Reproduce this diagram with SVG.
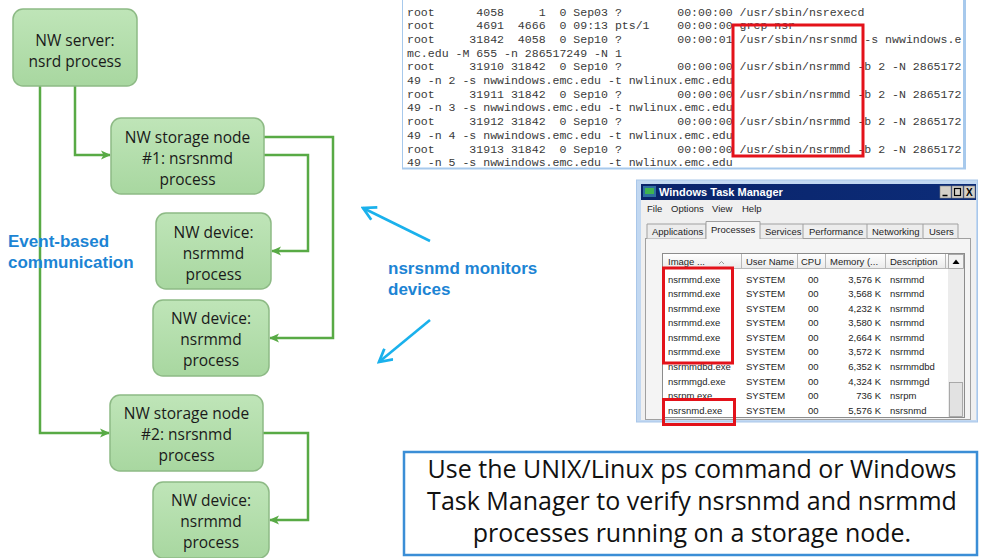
<svg xmlns="http://www.w3.org/2000/svg" width="981" height="558" viewBox="0 0 981 558">
<defs>
<linearGradient id="ng" x1="0" y1="0" x2="0" y2="1">
<stop offset="0" stop-color="#bfe5b8"/>
<stop offset="1" stop-color="#a8d7a0"/>
</linearGradient>
<linearGradient id="tb" x1="0" y1="0" x2="1" y2="0">
<stop offset="0" stop-color="#0a246a"/>
<stop offset="1" stop-color="#0c2c78"/>
</linearGradient>
<linearGradient id="hd" x1="0" y1="0" x2="0" y2="1">
<stop offset="0" stop-color="#ffffff"/>
<stop offset="1" stop-color="#ebebeb"/>
</linearGradient>
<marker id="ga" viewBox="0 0 10 10" refX="9" refY="5" markerWidth="10" markerHeight="10" markerUnits="userSpaceOnUse" orient="auto">
<path d="M0,0.5 L10,5 L0,9.5 L2.5,5 Z" fill="#58aa45"/>
</marker>
<marker id="ba" viewBox="0 0 14 14" refX="12" refY="7" markerWidth="16" markerHeight="16" markerUnits="userSpaceOnUse" orient="auto">
<path d="M1,1 L12,7 L1,13" fill="none" stroke="#1ab1ec" stroke-width="2.4" stroke-linejoin="miter"/>
</marker>
<clipPath id="termclip"><rect x="403" y="0" width="561" height="168"/></clipPath>
</defs>
<style>
.node rect{fill:url(#ng);stroke:#8dba85;stroke-width:1.5}
.node text{font-family:"Open Sans","Liberation Sans",sans-serif;font-size:15.5px;fill:#1a1a1a;text-anchor:middle}
.conn{fill:none;stroke:#58aa45;stroke-width:2.5;marker-end:url(#ga)}
.blue{font-family:"Liberation Sans",Arial,sans-serif;font-weight:bold;font-size:17px;fill:#1c84d4}
.barrow{fill:none;stroke:#1ab1ec;stroke-width:2.6;marker-end:url(#ba)}
.term{font-family:"Liberation Mono","Courier New",monospace;font-size:11.55px;fill:#3a3a3a;white-space:pre}
.tm{font-family:"Liberation Sans",Tahoma,sans-serif;font-size:9.5px;fill:#1e1e1e}
.red{fill:none;stroke:#e3121a;stroke-width:3}
.note{font-family:"Open Sans","Liberation Sans",sans-serif;font-size:25px;fill:#111;text-anchor:middle}
.sep{stroke:#b8b8b8;stroke-width:1}
</style>
<rect width="981" height="558" fill="#ffffff"/>

<!-- Connectors -->
<g id="connectors">
<path class="conn" d="M40,86 V433 H109"/>
<path class="conn" d="M75,86 V155 H110"/>
<path class="conn" d="M264,137 H333 V338 H270"/>
<path class="conn" d="M264,155 H308 V251 H272"/>
<path class="conn" d="M263,433 H308 V520 H270"/>
</g>

<!-- Nodes -->
<g id="nw-server" class="node">
<rect x="13" y="9" width="124" height="77" rx="10"/>
<text x="75" y="46">NW server:</text>
<text x="75" y="67">nsrd process</text>
</g>
<g id="storage-node-1" class="node">
<rect x="111" y="118" width="153" height="76" rx="10"/>
<text x="187.5" y="143">NW storage node</text>
<text x="187.5" y="164">#1: nsrsnmd</text>
<text x="187.5" y="185">process</text>
</g>
<g id="device-1" class="node">
<rect x="156" y="213" width="115" height="76" rx="10"/>
<text x="213.5" y="238">NW device:</text>
<text x="213.5" y="259">nsrmmd</text>
<text x="213.5" y="280">process</text>
</g>
<g id="device-2" class="node">
<rect x="153" y="300" width="116" height="76" rx="10"/>
<text x="211" y="324">NW device:</text>
<text x="211" y="345">nsrmmd</text>
<text x="211" y="366">process</text>
</g>
<g id="storage-node-2" class="node">
<rect x="110" y="395" width="153" height="76" rx="10"/>
<text x="186.5" y="419">NW storage node</text>
<text x="186.5" y="440">#2: nsrsnmd</text>
<text x="186.5" y="461">process</text>
</g>
<g id="device-3" class="node">
<rect x="153" y="482" width="116" height="76" rx="10"/>
<text x="211" y="506">NW device:</text>
<text x="211" y="527">nsrmmd</text>
<text x="211" y="548">process</text>
</g>

<g id="event-label">
<text class="blue" x="8" y="247">Event-based</text>
<text class="blue" x="8" y="268">communication</text>
</g>

<g id="monitor-label">
<text class="blue" x="388" y="274">nsrsnmd monitors</text>
<text class="blue" x="388" y="295">devices</text>
<path class="barrow" d="M430,241 L363,208"/>
<path class="barrow" d="M430,320 L379,362"/>
</g>

<!-- Terminal screenshot -->
<g id="terminal">
<rect x="402.5" y="-2" width="563" height="170.5" fill="#ffffff" stroke="#a7c9ec" stroke-width="1"/>
<line x1="964.5" y1="0" x2="964.5" y2="169" stroke="#a7c9ec" stroke-width="3"/>
<line x1="402" y1="168.5" x2="966" y2="168.5" stroke="#a7c9ec" stroke-width="2"/>
<g clip-path="url(#termclip)">
<text class="term" x="407" y="15.5" xml:space="preserve">root      4058     1  0 Sep03 ?        00:00:00 /usr/sbin/nsrexecd</text>
<text class="term" x="407" y="29.2" xml:space="preserve">root      4691  4666  0 09:13 pts/1    00:00:00 grep nsr</text>
<text class="term" x="407" y="42.9" xml:space="preserve">root     31842  4058  0 Sep10 ?        00:00:01 /usr/sbin/nsrsnmd -s nwwindows.e</text>
<text class="term" x="407" y="56.6" xml:space="preserve">mc.edu -M 655 -n 286517249 -N 1</text>
<text class="term" x="407" y="70.3" xml:space="preserve">root     31910 31842  0 Sep10 ?        00:00:00 /usr/sbin/nsrmmd -b 2 -N 2865172</text>
<text class="term" x="407" y="84" xml:space="preserve">49 -n 2 -s nwwindows.emc.edu -t nwlinux.emc.edu</text>
<text class="term" x="407" y="97.7" xml:space="preserve">root     31911 31842  0 Sep10 ?        00:00:00 /usr/sbin/nsrmmd -b 2 -N 2865172</text>
<text class="term" x="407" y="111.4" xml:space="preserve">49 -n 3 -s nwwindows.emc.edu -t nwlinux.emc.edu</text>
<text class="term" x="407" y="125.1" xml:space="preserve">root     31912 31842  0 Sep10 ?        00:00:00 /usr/sbin/nsrmmd -b 2 -N 2865172</text>
<text class="term" x="407" y="138.8" xml:space="preserve">49 -n 4 -s nwwindows.emc.edu -t nwlinux.emc.edu</text>
<text class="term" x="407" y="152.5" xml:space="preserve">root     31913 31842  0 Sep10 ?        00:00:00 /usr/sbin/nsrmmd -b 2 -N 2865172</text>
<text class="term" x="407" y="166.2" xml:space="preserve">49 -n 5 -s nwwindows.emc.edu -t nwlinux.emc.edu</text>
</g>
<rect class="red" x="733" y="25" width="130" height="131"/>
</g>

<!-- Task manager screenshot -->
<g id="task-manager">
<rect x="636.5" y="180" width="341" height="242" fill="#c2d8f1" stroke="#a9c7ea"/>
<rect x="641" y="184" width="335" height="16" fill="url(#tb)"/>
<rect x="643" y="186" width="13" height="11" fill="#2f6f9f"/>
<rect x="645" y="188" width="9" height="6" fill="#3fb34f"/>
<text x="659" y="196" font-family="'Liberation Sans',Tahoma,sans-serif" font-size="11px" font-weight="bold" fill="#ffffff">Windows Task Manager</text>
<rect x="940" y="186" width="11" height="12" fill="#d4d0c8" stroke="#808080" stroke-width="0.6"/>
<rect x="952" y="186" width="11" height="12" fill="#d4d0c8" stroke="#808080" stroke-width="0.6"/>
<rect x="964" y="186" width="11" height="12" fill="#d4d0c8" stroke="#808080" stroke-width="0.6"/>
<line x1="942.5" y1="195.5" x2="947.5" y2="195.5" stroke="#000" stroke-width="1.5"/>
<rect x="954.5" y="188.5" width="6" height="7" fill="none" stroke="#000" stroke-width="1.2"/>
<text x="966" y="196" font-family="'Liberation Sans',sans-serif" font-size="10px" font-weight="bold" fill="#000">X</text>
<rect x="641" y="200" width="335" height="220" fill="#f0f0f0"/>
<text class="tm" x="647" y="212">File</text>
<text class="tm" x="671" y="212">Options</text>
<text class="tm" x="712" y="212">View</text>
<text class="tm" x="742" y="212">Help</text>
<rect x="645.5" y="238.5" width="325" height="181" fill="#f4f4f4" stroke="#a0a0a0"/>
<path d="M647,238.5 V224 H706 V238.5 M759,238.5 V224 H803 V238.5 M803,224 H867 V238.5 M867,224 H923 V238.5 M923,224 H958 V238.5" fill="#ececec" stroke="#a0a0a0"/>
<path d="M706,239 V221.5 H760 V239" fill="#f4f4f4" stroke="#a0a0a0"/>
<text class="tm" x="652" y="235">Applications</text>
<text class="tm" x="711" y="233">Processes</text>
<text class="tm" x="765" y="235">Services</text>
<text class="tm" x="809" y="235">Performance</text>
<text class="tm" x="872" y="235">Networking</text>
<text class="tm" x="929" y="235">Users</text>
<rect x="662.5" y="253.5" width="302" height="164" fill="#ffffff" stroke="#8c8c8c"/>
<rect x="663" y="254" width="285" height="14" fill="url(#hd)"/>
<line x1="663" y1="268.5" x2="948" y2="268.5" class="sep"/>
<line class="sep" x1="741.5" y1="254" x2="741.5" y2="268"/>
<line class="sep" x1="797.5" y1="254" x2="797.5" y2="268"/>
<line class="sep" x1="825.5" y1="254" x2="825.5" y2="268"/>
<line class="sep" x1="885.5" y1="254" x2="885.5" y2="268"/>
<line class="sep" x1="945.5" y1="254" x2="945.5" y2="268"/>
<text class="tm" x="668" y="265">Image ...</text>
<polyline points="719,264 721.5,261.5 724,264" fill="none" stroke="#9a9a9a" stroke-width="1"/>
<text class="tm" x="746" y="265">User Name</text>
<text class="tm" x="801" y="265">CPU</text>
<text class="tm" x="830" y="265">Memory (...</text>
<text class="tm" x="890" y="265">Description</text>
<rect x="948" y="254" width="16" height="163" fill="#ececec"/>
<rect x="948.5" y="254.5" width="15" height="14" fill="#f2f2f2" stroke="#9a9a9a" stroke-width="0.8"/>
<polygon points="952.5,264 956,259.5 959.5,264" fill="#000"/>
<rect x="949.5" y="382.5" width="13" height="34" fill="#e2e2e2" stroke="#9a9a9a" stroke-width="0.8"/>
<g class="tm">
<text x="668" y="282.5">nsrmmd.exe</text><text x="746" y="282.5">SYSTEM</text><text x="808" y="282.5">00</text><text x="881" y="282.5" text-anchor="end">3,576 K</text><text x="890" y="282.5">nsrmmd</text>
<text x="668" y="297">nsrmmd.exe</text><text x="746" y="297">SYSTEM</text><text x="808" y="297">00</text><text x="881" y="297" text-anchor="end">3,568 K</text><text x="890" y="297">nsrmmd</text>
<text x="668" y="311.5">nsrmmd.exe</text><text x="746" y="311.5">SYSTEM</text><text x="808" y="311.5">00</text><text x="881" y="311.5" text-anchor="end">4,232 K</text><text x="890" y="311.5">nsrmmd</text>
<text x="668" y="326">nsrmmd.exe</text><text x="746" y="326">SYSTEM</text><text x="808" y="326">00</text><text x="881" y="326" text-anchor="end">3,580 K</text><text x="890" y="326">nsrmmd</text>
<text x="668" y="340.5">nsrmmd.exe</text><text x="746" y="340.5">SYSTEM</text><text x="808" y="340.5">00</text><text x="881" y="340.5" text-anchor="end">2,664 K</text><text x="890" y="340.5">nsrmmd</text>
<text x="668" y="355">nsrmmd.exe</text><text x="746" y="355">SYSTEM</text><text x="808" y="355">00</text><text x="881" y="355" text-anchor="end">3,572 K</text><text x="890" y="355">nsrmmd</text>
<text x="668" y="369.5">nsrmmdbd.exe</text><text x="746" y="369.5">SYSTEM</text><text x="808" y="369.5">00</text><text x="881" y="369.5" text-anchor="end">6,352 K</text><text x="890" y="369.5">nsrmmdbd</text>
<text x="668" y="384.5">nsrmmgd.exe</text><text x="746" y="384.5">SYSTEM</text><text x="808" y="384.5">00</text><text x="881" y="384.5" text-anchor="end">4,324 K</text><text x="890" y="384.5">nsrmmgd</text>
<text x="668" y="399">nsrpm.exe</text><text x="746" y="399">SYSTEM</text><text x="808" y="399">00</text><text x="881" y="399" text-anchor="end">736 K</text><text x="890" y="399">nsrpm</text>
<text x="668" y="414">nsrsnmd.exe</text><text x="746" y="414">SYSTEM</text><text x="808" y="414">00</text><text x="881" y="414" text-anchor="end">5,576 K</text><text x="890" y="414">nsrsnmd</text>
</g>
<rect class="red" x="663.5" y="268" width="69" height="95"/>
<rect class="red" x="663.5" y="399.5" width="71" height="25"/>
</g>

<!-- Note box -->
<g id="note">
<rect x="404" y="452" width="573" height="103" fill="#ffffff" stroke="#3b8ed6" stroke-width="2.5"/>
<text class="note" x="692" y="478">Use the UNIX/Linux ps command or Windows</text>
<text class="note" x="692" y="510">Task Manager to verify nsrsnmd and nsrmmd</text>
<text class="note" x="692" y="542">processes running on a storage node.</text>
</g>
</svg>
